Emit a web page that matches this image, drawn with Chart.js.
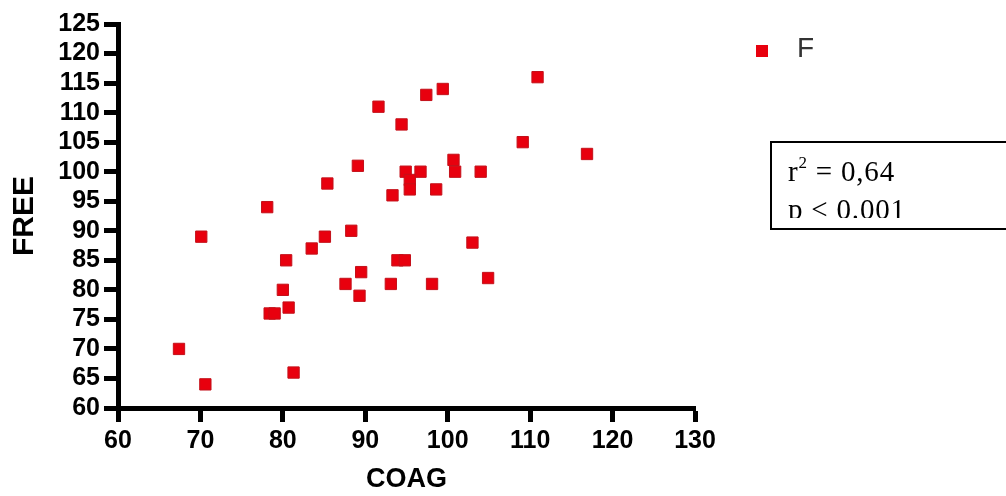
<!DOCTYPE html>
<html>
<head>
<meta charset="utf-8">
<script src="https://cdn.jsdelivr.net/npm/chart.js@4.4.1/dist/chart.umd.min.js"></script>
<style>
  html, body { margin: 0; padding: 0; background: #ffffff; }
  #c { display: block; }
</style>
</head>
<body>
<canvas id="c" width="1006" height="496"></canvas>
<script>
// ---- data ----
const seriesLabel = 'F';
const coag = [67.4, 70.1, 70.6, 78.1, 78.4, 79.0, 80.0, 80.4, 80.7, 81.3,
              83.5, 85.1, 85.4, 87.6, 88.3, 89.1, 89.5, 89.3, 91.6, 93.1,
              93.3, 93.9, 94.8, 94.4, 94.9, 96.7, 95.4, 95.4, 97.4, 98.1,
              98.6, 99.4, 100.7, 100.9, 103.0, 104.0, 104.9, 109.1, 110.9, 116.9];
const free = [70, 89, 64, 94, 76, 76, 80, 85, 77, 66,
              87, 89, 98, 81, 90, 101, 83, 79, 111, 81,
              96, 85, 85, 108, 100, 100, 98.6, 97, 113, 81,
              97, 114, 102, 100, 88, 100, 82, 105, 116, 103];
const xTicks = { min: 60, max: 130, step: 10 };
const yTicks = { min: 60, max: 125, step: 5 };
const xTitle = 'COAG';
const yTitle = 'FREE';
const statLine1 = ['r', '2', ' = 0,64'];
const statLine2 = 'p < 0.001';

// ---- styles ----
const RED = '#e8000e';
const SANS = "'Liberation Sans', Arial, sans-serif";
const SERIF = "'Liberation Serif', 'Times New Roman', serif";

const overlayPlugin = {
  id: 'overlay',
  afterDraw(chart) {
    const ctx = chart.ctx;
    const ds = chart.data.datasets[0];
    // legend
    ctx.save();
    ctx.fillStyle = ds.backgroundColor;
    ctx.fillRect(756, 45, 12, 12);
    ctx.fillStyle = '#333333';
    ctx.font = '28px ' + SANS;
    ctx.textBaseline = 'middle';
    ctx.textAlign = 'left';
    ctx.fillText(ds.label, 797, 49);
    ctx.restore();

    // statistics box
    ctx.save();
    ctx.strokeStyle = '#000';
    ctx.lineWidth = 2;
    ctx.strokeRect(771, 142, 300, 87);
    ctx.beginPath();
    ctx.rect(772, 143, 240, 75);
    ctx.clip();
    ctx.fillStyle = '#000';
    ctx.textBaseline = 'alphabetic';
    ctx.textAlign = 'left';
    if ('letterSpacing' in ctx) ctx.letterSpacing = '0.8px';
    ctx.font = '29px ' + SERIF;
    let x = 788;
    ctx.fillText(statLine1[0], x, 181);
    x += ctx.measureText(statLine1[0]).width;
    ctx.font = '17px ' + SERIF;
    ctx.fillText(statLine1[1], x, 168);
    x += ctx.measureText(statLine1[1]).width;
    ctx.font = '29px ' + SERIF;
    ctx.fillText(statLine1[2], x, 181);
    ctx.fillText(statLine2, 788, 219);
    ctx.restore();
  }
};

const tickFont = { family: SANS, size: 25, weight: 'bold', lineHeight: 1 };

new Chart(document.getElementById('c'), {
  type: 'scatter',
  data: {
    datasets: [{
      label: seriesLabel,
      data: coag.map((v, i) => ({ x: v, y: free[i] })),
      pointStyle: 'rect',
      pointRadius: 8,
      pointHoverRadius: 8,
      backgroundColor: RED,
      borderColor: '#c4101a',
      borderWidth: 1
    }]
  },
  options: {
    responsive: false,
    animation: false,
    events: [],
    layout: { padding: { left: 0, right: 311, top: 24, bottom: 0 } },
    plugins: { legend: { display: false }, tooltip: { enabled: false } },
    scales: {
      x: {
        type: 'linear',
        min: xTicks.min, max: xTicks.max,
        ticks: { stepSize: xTicks.step, font: tickFont, color: '#000', padding: 7, maxRotation: 0, autoSkip: false },
        grid: { display: true, drawOnChartArea: false, drawTicks: true, tickLength: 14, tickWidth: 5, tickColor: '#000' },
        border: { display: true, width: 5, color: '#000' },
        title: { display: true, text: xTitle, color: '#000', padding: 0,
                 font: { family: SANS, size: 27, weight: 'bold', lineHeight: 1.25 } },
        afterFit(s) { s.height = 88; }
      },
      y: {
        type: 'linear',
        min: yTicks.min, max: yTicks.max,
        ticks: { stepSize: yTicks.step, font: tickFont, color: '#000', padding: 4, autoSkip: false },
        grid: { display: true, drawOnChartArea: false, drawTicks: true, tickLength: 14, tickWidth: 5, tickColor: '#000' },
        border: { display: true, width: 5, color: '#000' },
        title: { display: true, text: yTitle, color: '#000', padding: { top: 7, bottom: 0 },
                 font: { family: SANS, size: 30, weight: 'bold', lineHeight: 1.2 } },
        afterFit(s) { s.width = 118; }
      }
    }
  },
  plugins: [overlayPlugin]
});
</script>
</body>
</html>
